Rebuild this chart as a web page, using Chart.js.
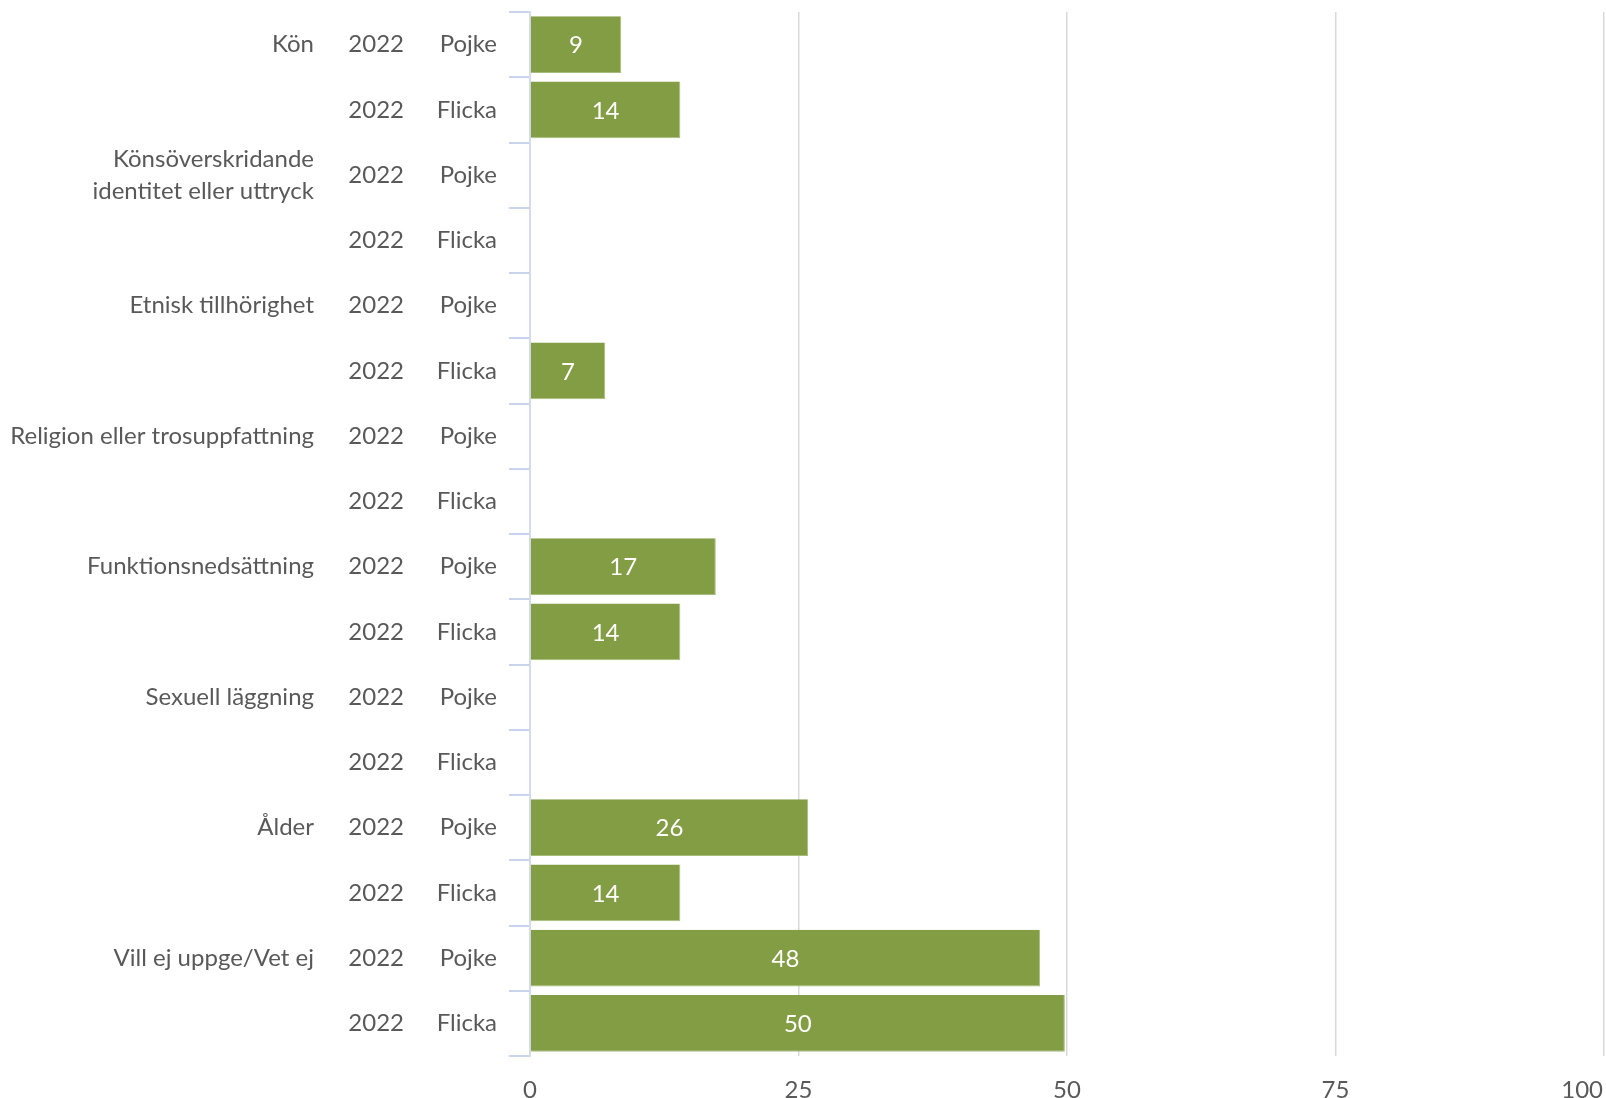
<!DOCTYPE html>
<html>
<head>
<meta charset="utf-8">
<script src="https://cdn.jsdelivr.net/npm/chart.js@4"></script>
<style>
  html, body { margin: 0; padding: 0; background: #fff; }
  #wrap { width: 1606px; height: 1098px; }
</style>
</head>
<body>
<div id="wrap"><canvas id="chart" width="1606" height="1098"></canvas></div>
<script>
const groups = ['Kön', '', ['Könsöverskridande', 'identitet eller uttryck'], '', 'Etnisk tillhörighet', '',
  'Religion eller trosuppfattning', '', 'Funktionsnedsättning', '', 'Sexuell läggning', '', 'Ålder', '',
  'Vill ej uppge/Vet ej', ''];
const years = ['2022', '2022', '2022', '2022', '2022', '2022', '2022', '2022',
  '2022', '2022', '2022', '2022', '2022', '2022', '2022', '2022'];
const genders = ['Pojke', 'Flicka', 'Pojke', 'Flicka', 'Pojke', 'Flicka', 'Pojke', 'Flicka',
  'Pojke', 'Flicka', 'Pojke', 'Flicka', 'Pojke', 'Flicka', 'Pojke', 'Flicka'];
const values = [8.5, 14, null, null, null, 7, null, null, 17.3, 14, null, null, 25.9, 14, 47.5, 49.8];
const xTicks = [0, 25, 50, 75, 100];

const textColor = '#595959';
const fontFamily = 'Lato, "Noto Sans", sans-serif';
const fontSize = 24;

// no extra room for the first/last tick label, the plot runs to the edges
const noPad = axis => {
  axis.paddingTop = 0;
  axis.paddingBottom = 0;
  axis.paddingLeft = 0;
  axis.paddingRight = 0;
};

// value in the middle of each bar + x tick labels kept inside the canvas
const labelsPlugin = {
  id: 'labelsPlugin',
  afterDatasetsDraw(chart) {
    const ctx = chart.ctx;
    const meta = chart.getDatasetMeta(0);
    ctx.save();
    ctx.fillStyle = '#ffffff';
    ctx.font = fontSize + 'px ' + fontFamily;
    ctx.textAlign = 'center';
    ctx.textBaseline = 'middle';
    meta.data.forEach((bar, i) => {
      const v = values[i];
      if (v == null) return;
      ctx.fillText(String(Math.round(v)), (bar.base + bar.x) / 2, bar.y + 1);
    });

    const xs = chart.scales.x;
    ctx.fillStyle = textColor;
    ctx.textBaseline = 'top';
    xTicks.forEach(v => {
      const txt = String(v);
      const w = ctx.measureText(txt).width;
      let px = xs.getPixelForValue(v);
      px = Math.min(px, chart.width - 3 - w / 2);
      ctx.fillText(txt, px, xs.top + 22);
    });
    ctx.restore();
  }
};

new Chart(document.getElementById('chart'), {
  type: 'bar',
  data: {
    labels: genders,
    datasets: [{
      data: values,
      backgroundColor: '#829d44',
      borderColor: '#a7bd7c',
      borderWidth: { right: 1, bottom: 1, top: 0, left: 0 },
      borderSkipped: false,
      barPercentage: 0.87,
      categoryPercentage: 1
    }]
  },
  options: {
    indexAxis: 'y',
    responsive: false,
    animation: false,
    layout: { padding: { top: 12, right: 2, left: 0, bottom: 0 } },
    plugins: { legend: { display: false }, tooltip: { enabled: false } },
    scales: {
      x: {
        min: 0,
        max: 100,
        afterBuildTicks: axis => { axis.ticks = xTicks.map(v => ({ value: v })); },
        afterFit: axis => { axis.height = 42; noPad(axis); },
        border: { display: false },
        grid: { color: '#d9d9d9', lineWidth: 1.5, drawTicks: false },
        ticks: { display: false }
      },
      y: {
        type: 'category',
        weight: 0,
        offset: true,
        afterFit: axis => { axis.width = 120; noPad(axis); },
        border: { display: true, color: '#d4dbea', width: 2 },
        grid: { offset: true, drawOnChartArea: false, color: '#c9d3eb', lineWidth: 2, tickLength: 21 },
        ticks: { autoSkip: false, color: textColor, padding: 12, font: { family: fontFamily, size: fontSize } }
      },
      yYear: {
        type: 'category',
        position: 'left',
        weight: 1,
        labels: years,
        offset: true,
        afterFit: axis => { axis.width = 80; noPad(axis); },
        border: { display: false },
        grid: { display: false, drawTicks: false },
        ticks: { autoSkip: false, crossAlign: 'center', color: textColor, padding: 6, font: { family: fontFamily, size: fontSize } }
      },
      yGroup: {
        type: 'category',
        position: 'left',
        weight: 2,
        labels: groups,
        offset: true,
        afterFit: axis => { axis.width = 330; noPad(axis); },
        border: { display: false },
        grid: { display: false, drawTicks: false },
        ticks: { autoSkip: false, color: textColor, padding: 16, font: { family: fontFamily, size: fontSize, lineHeight: 1.35 } }
      }
    }
  },
  plugins: [labelsPlugin]
});
</script>
</body>
</html>
